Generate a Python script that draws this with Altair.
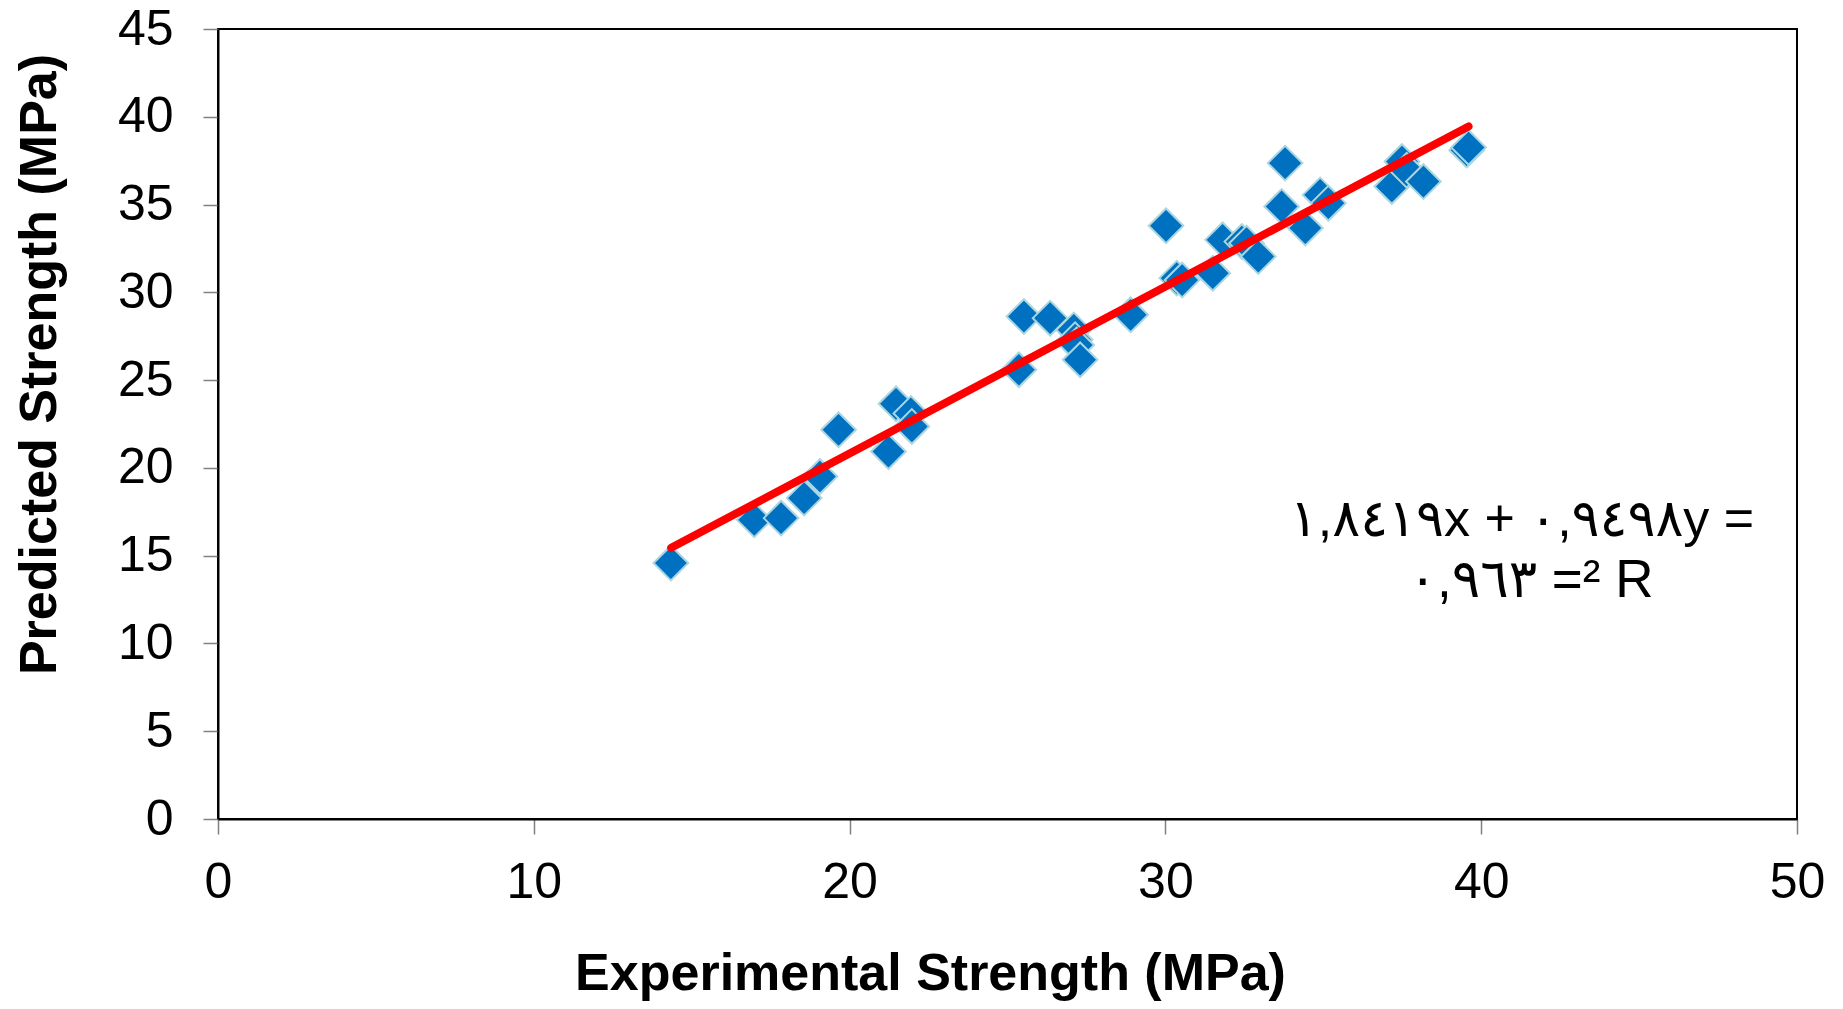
import altair as alt
import pandas as pd

# Data
exp_strength = [14.34, 16.98, 17.83, 18.56, 19.06, 19.65, 21.23, 21.47, 21.94, 21.97,
                25.36, 25.52, 26.35, 27.10, 27.14, 27.19, 27.30, 28.90, 30.02, 30.36,
                30.53, 31.50, 31.81, 32.42, 32.57, 32.94, 33.68, 33.79, 34.43, 34.90,
                35.16, 37.17, 37.49, 37.64, 38.17, 39.54, 39.60]
pred_strength = [14.58, 17.04, 17.14, 18.28, 19.51, 22.17, 20.93, 23.65, 23.10, 22.36,
                 25.59, 28.62, 28.53, 27.86, 27.30, 27.00, 26.16, 28.72, 33.79, 30.81,
                 30.70, 31.09, 32.99, 32.89, 32.80, 32.04, 34.89, 37.36, 33.66, 35.55,
                 35.08, 36.03, 37.45, 36.95, 36.31, 38.10, 38.25]
trend_x = [14.35, 39.60]
trend_y = [15.45, 39.45]
x_ticks = [0, 10, 20, 30, 40, 50]
y_ticks = [0, 5, 10, 15, 20, 25, 30, 35, 40, 45]
eq_lines = ["١,٨٤١٩x + ٠,٩٤٩٨y =", "٠,٩٦٣ =² R"]

pts = pd.DataFrame({"exp": exp_strength, "pred": pred_strength})
trend = pd.DataFrame({"exp": trend_x, "pred": trend_y})

FONT = "Liberation Sans, Arial, DejaVu Sans"

common_axis = dict(
    grid=False,
    domainColor="black",
    domainWidth=2,
    tickColor="#808080",
    tickWidth=1.5,
    tickSize=15,
    labelFont=FONT,
    labelFontSize=50,
    labelColor="black",
    labelFlush=False,
    labelOverlap=False,
    titleFont=FONT,
    titleFontSize=52,
    titleFontWeight="bold",
    titleColor="black",
)

x_enc = alt.X(
    "exp:Q",
    scale=alt.Scale(domain=[0, 50], nice=False, zero=False),
    axis=alt.Axis(
        values=x_ticks,
        title="Experimental Strength (MPa)",
        labelPadding=23,
        titleX=712,
        titleY=170,
        titleAlign="center",
        titleBaseline="alphabetic",
        **common_axis,
    ),
)
y_enc = alt.Y(
    "pred:Q",
    scale=alt.Scale(domain=[0, 45], nice=False, zero=False),
    axis=alt.Axis(
        values=y_ticks,
        title="Predicted Strength (MPa)",
        labelPadding=30,
        titleAngle=270,
        titleX=-163,
        titleY=335,
        titleAlign="center",
        titleBaseline="alphabetic",
        **common_axis,
    ),
)

points = alt.Chart(pts).mark_point(
    shape="diamond",
    filled=True,
    size=1200,
    fill="#0070C0",
    stroke="#A9D6E0",
    strokeWidth=2,
    opacity=1,
).encode(x=x_enc, y=y_enc)

line = alt.Chart(trend).mark_line(
    color="#FF0000", strokeWidth=8, strokeCap="round"
).encode(x="exp:Q", y="pred:Q")

eq1 = alt.Chart(pd.DataFrame({"t": [eq_lines[0]]})).mark_text(
    font=FONT, fontSize=52, color="black", align="center", baseline="alphabetic"
).encode(text="t:N", x=alt.value(1304), y=alt.value(507))

eq2 = alt.Chart(pd.DataFrame({"t": [eq_lines[1]]})).mark_text(
    font=FONT, fontSize=53, color="black", align="center", baseline="alphabetic"
).encode(text="t:N", x=alt.value(1313), y=alt.value(568))

chart = alt.layer(points, line, eq1, eq2).properties(
    width=1579,
    height=790,
    autosize=alt.AutoSizeParams(type="none"),
    padding={"left": 210, "top": 21, "right": 30, "bottom": 182},
    background="white",
).configure_view(stroke="black", strokeWidth=2)

chart.save("out.html", embed_options={"renderer": "svg", "actions": False})
